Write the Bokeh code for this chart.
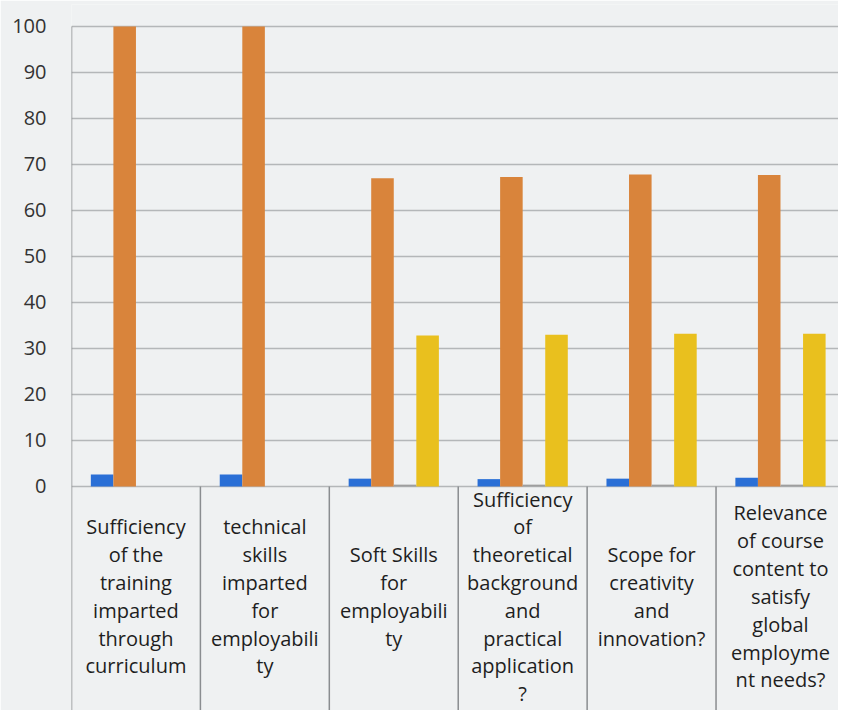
from bokeh.plotting import figure
from bokeh.models import Range1d, FixedTicker
from bokeh.core.properties import value
from bokeh.embed import file_html
from bokeh.resources import INLINE

categories = [
    "Sufficiency\nof the\ntraining\nimparted\nthrough\ncurriculum",
    "technical\nskills\nimparted\nfor\nemployabili\nty",
    "Soft Skills\nfor\nemployabili\nty",
    "Sufficiency\nof\ntheoretical\nbackground\nand\npractical\napplication\n?",
    "Scope for\ncreativity\nand\ninnovation?",
    "Relevance\nof course\ncontent to\nsatisfy\nglobal\nemployme\nnt needs?",
]
series_blue = [2.6, 2.6, 1.7, 1.6, 1.7, 1.9]
series_orange = [100, 100, 67.0, 67.3, 67.8, 67.7]
series_grey = [0, 0, 0.4, 0.4, 0.4, 0.4]
series_yellow = [0, 0, 32.8, 33.0, 33.2, 33.2]
y_ticks = [0, 10, 20, 30, 40, 50, 60, 70, 80, 90, 100]

BG = "#eff1f2"
GRID = "#b4b7b9"

p = figure(width=838, height=710, output_backend="svg", toolbar_location=None,
           x_range=Range1d(0, 5.95), y_range=Range1d(-48.7, 104.78),
           x_axis_location=None, min_border_left=71, min_border_right=0,
           min_border_top=4, min_border_bottom=0,
           background_fill_color=BG, border_fill_color=BG, outline_line_color=None)

p.yaxis.ticker = FixedTicker(ticks=y_ticks)
p.yaxis.axis_line_color = None
p.yaxis.major_tick_line_color = None
p.yaxis.minor_tick_line_color = None
p.yaxis.major_tick_out = 0
p.yaxis.major_label_standoff = 25
p.yaxis.major_label_text_font = "Open Sans"
p.yaxis.major_label_text_font_size = "20px"
p.yaxis.major_label_text_color = "#333333"
p.xgrid.grid_line_color = None
p.ygrid.ticker = FixedTicker(ticks=y_ticks)
p.ygrid.grid_line_color = GRID
p.ygrid.grid_line_width = 1.5

n = len(categories)
centers = [i + 0.5 for i in range(n)]
w = 0.175
offsets = [-1.5 * w, -0.5 * w, 0.5 * w, 1.5 * w]
colors = ["#2a6fd6", "#d9843b", "#9e9e9e", "#e9c01e"]
for off, vals, col in zip(offsets, [series_blue, series_orange, series_grey, series_yellow], colors):
    p.vbar(x=[c + off for c in centers], top=vals, bottom=0, width=w,
           fill_color=col, line_color=None)

# table borders
bx = list(range(n))
by0 = [max(y_ticks) if i == 0 else 0 for i in bx]
p.segment(x0=bx, x1=bx, y0=by0, y1=[-60] * n, line_color="#8a8d90", line_width=1.5)

p.text(x=centers, y=[-23.9] * n, text=categories, text_align="center", text_baseline="middle",
       text_font=value("Open Sans"), text_font_size="20px", text_color="#1e1e1e",
       text_line_height=1.03)

open("out.html", "w").write(file_html(p, INLINE))
